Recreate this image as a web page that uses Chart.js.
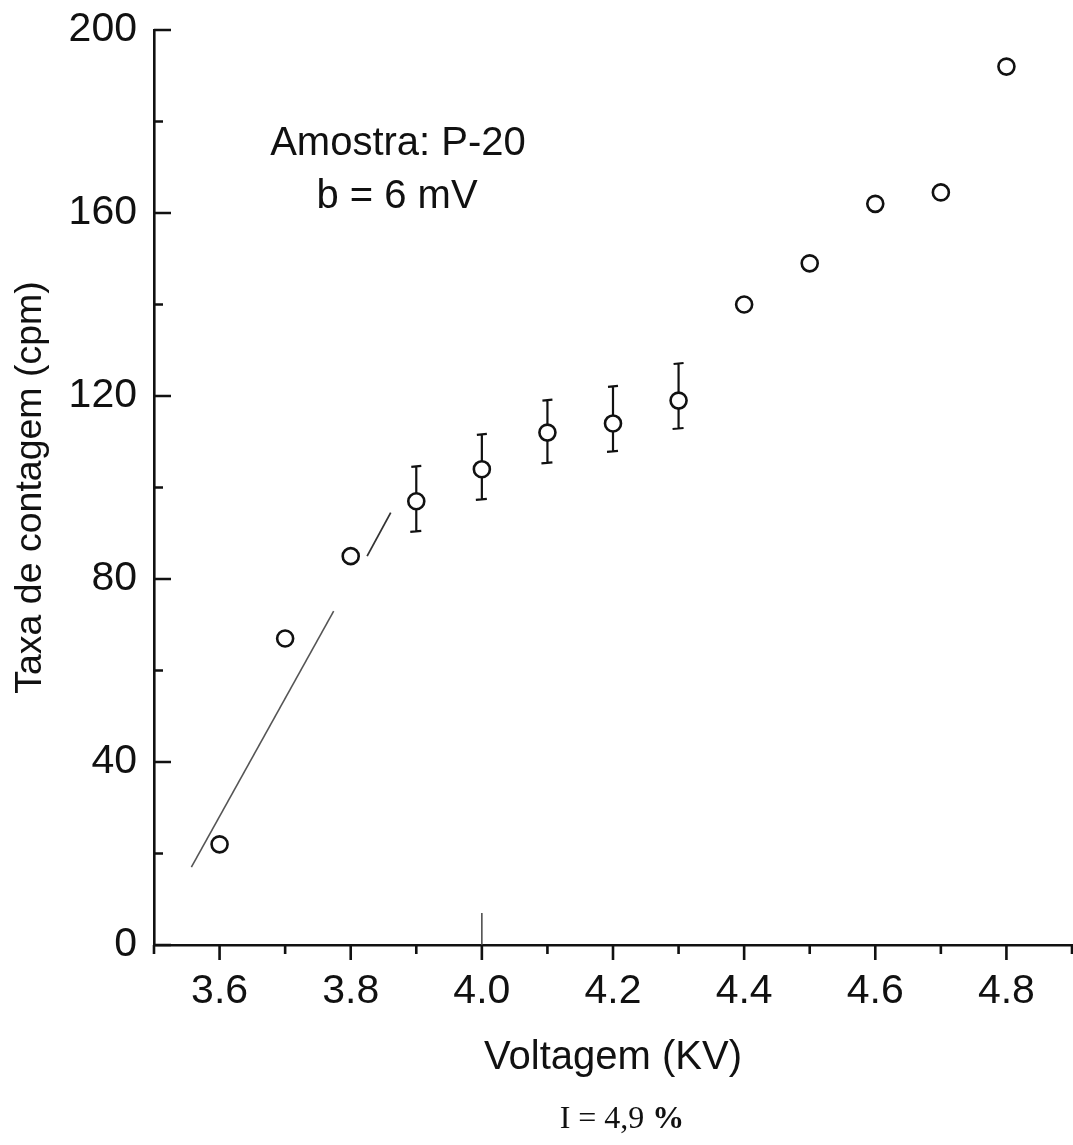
<!DOCTYPE html>
<html><head><meta charset="utf-8">
<script src="https://cdn.jsdelivr.net/npm/chart.js@4/dist/chart.umd.min.js"></script>
<style>html,body{margin:0;padding:0;background:#fff}canvas{display:block}</style>
</head><body>
<canvas id="c" width="1073" height="1145"></canvas>
<script>
// ---- data ----
const voltage    = [3.6, 3.7, 3.8, 3.9, 4.0, 4.1, 4.2, 4.3, 4.4, 4.5, 4.6, 4.7, 4.8];
const countRate  = [22, 67, 85, 97, 104, 112, 114, 119, 140, 149, 162, 164.5, 192];
const errHigh    = [null, null, null, 104.5, 111.5, 119, 122, 127, null, null, null, null, null];
const errLow     = [null, null, null, 90.5, 97.5, 105.5, 108, 113, null, null, null, null, null];
const fit1X = [3.557, 3.774];
const fit1Y = [17, 73];
const fit2X = [3.825, 3.861];
const fit2Y = [85, 94.5];
const markX = [4.0, 4.0];
const markY = [0, 7];
const xMajorTicks = [3.6, 3.8, 4.0, 4.2, 4.4, 4.6, 4.8];
const xMinorTicks = [3.5, 3.7, 3.9, 4.1, 4.3, 4.5, 4.7, 4.9];
const yMajorTicks = [0, 40, 80, 120, 160, 200];
const yMinorTicks = [20, 60, 100, 140, 180];
const xTitle = 'Voltagem (KV)';
const yTitle = 'Taxa de contagem (cpm)';
const note1 = 'Amostra: P-20';
const note2 = 'b = 6 mV';
const footMain = 'I = 4,9 ';
const footPct = '%';

const SANS = '"Liberation Sans", Arial, Helvetica, sans-serif';
const SERIF = '"Liberation Serif", "Times New Roman", serif';
const INK = '#111';

const pts = voltage.map((v, i) => ({x: v, y: countRate[i]}));
const toXY = (xs, ys) => xs.map((v, i) => ({x: v, y: ys[i]}));
const noPad = s => { s.paddingTop = 0; s.paddingBottom = 0; s.paddingLeft = 0; s.paddingRight = 0; };

const errorBars = {
  id: 'errorBars',
  beforeDatasetsDraw(chart) {
    const {ctx, scales: {x, y}} = chart;
    ctx.save();
    ctx.strokeStyle = INK;
    ctx.lineWidth = 2.2;
    voltage.forEach((v, i) => {
      if (errHigh[i] == null) return;
      const px = x.getPixelForValue(v);
      const pt = y.getPixelForValue(errHigh[i]);
      const pb = y.getPixelForValue(errLow[i]);
      ctx.beginPath();
      ctx.moveTo(px, pt); ctx.lineTo(px, pb);
      ctx.moveTo(px - 5, pt); ctx.lineTo(px + 5, pt - 1);
      ctx.moveTo(px - 6, pb + 1); ctx.lineTo(px + 5, pb);
      ctx.stroke();
    });
    ctx.restore();
  }
};

const tickMarks = {
  id: 'tickMarks',
  afterDraw(chart) {
    const {ctx, chartArea: a, scales: {x, y}} = chart;
    ctx.save();
    ctx.strokeStyle = INK;
    ctx.lineWidth = 2.6;
    ctx.beginPath();
    yMajorTicks.forEach(v => { const p = y.getPixelForValue(v); ctx.moveTo(a.left, p); ctx.lineTo(a.left + 17, p); });
    yMinorTicks.forEach(v => { const p = y.getPixelForValue(v); ctx.moveTo(a.left, p); ctx.lineTo(a.left + 9, p); });
    xMajorTicks.forEach(v => { const p = x.getPixelForValue(v); ctx.moveTo(p, a.bottom); ctx.lineTo(p, a.bottom + 15); });
    xMinorTicks.forEach(v => { const p = x.getPixelForValue(v); ctx.moveTo(p, a.bottom); ctx.lineTo(p, a.bottom + 9); });
    ctx.stroke();
    ctx.restore();
  }
};

const notes = {
  id: 'notes',
  afterDraw(chart) {
    const {ctx} = chart;
    ctx.save();
    ctx.fillStyle = INK;
    ctx.textAlign = 'center';
    ctx.textBaseline = 'alphabetic';
    ctx.font = '40px ' + SANS;
    ctx.fillText(note1, 398, 155);
    ctx.fillText(note2, 397, 208);
    ctx.font = '32px ' + SERIF;
    const w1 = ctx.measureText(footMain).width;
    ctx.font = 'bold 32px ' + SERIF;
    const w2 = ctx.measureText(footPct).width;
    const start = 622 - (w1 + w2) / 2;
    ctx.textAlign = 'left';
    ctx.font = '32px ' + SERIF;
    ctx.fillText(footMain, start, 1128);
    ctx.font = 'bold 32px ' + SERIF;
    ctx.fillText(footPct, start + w1, 1128);
    ctx.restore();
  }
};

new Chart(document.getElementById('c'), {
  type: 'scatter',
  data: {
    datasets: [
      {data: toXY(fit1X, fit1Y), showLine: true, borderColor: '#555', borderWidth: 1.6, pointRadius: 0, order: 3},
      {data: toXY(fit2X, fit2Y), showLine: true, borderColor: '#333', borderWidth: 1.8, pointRadius: 0, order: 3},
      {data: toXY(markX, markY), showLine: true, borderColor: '#444', borderWidth: 1.5, pointRadius: 0, order: 3},
      {data: pts, showLine: false, pointStyle: 'circle', pointRadius: 8, pointHoverRadius: 8,
       pointBorderWidth: 2.6, pointBorderColor: INK, pointBackgroundColor: '#fff', order: 1}
    ]
  },
  options: {
    responsive: false,
    animation: false,
    devicePixelRatio: 1,
    layout: {autoPadding: false, padding: {top: 30, right: 1, left: 0, bottom: 0}},
    plugins: {legend: {display: false}, tooltip: {enabled: false}},
    scales: {
      x: {
        type: 'linear', min: 3.5, max: 4.9,
        grid: {display: false, drawTicks: false},
        border: {display: true, color: INK, width: 2.6},
        afterBuildTicks: s => { s.ticks = xMajorTicks.map(v => ({value: v})); },
        afterFit: s => { s.height = 200; noPad(s); },
        ticks: {color: INK, font: {family: SANS, size: 41}, padding: 22, maxRotation: 0, autoSkip: false,
                callback: v => Number(v).toFixed(1)},
        title: {display: true, text: xTitle, color: INK, font: {family: SANS, size: 40}, padding: {top: 0, bottom: 63}}
      },
      y: {
        type: 'linear', min: 0, max: 200,
        grid: {display: false, drawTicks: false},
        border: {display: true, color: INK, width: 2.6},
        afterBuildTicks: s => { s.ticks = yMajorTicks.map(v => ({value: v})); },
        afterFit: s => { s.width = 154; noPad(s); },
        ticks: {color: INK, font: {family: SANS, size: 41}, padding: 17, callback: v => String(v)},
        title: {display: true, text: yTitle, color: INK, font: {family: SANS, size: 37.5}, padding: {top: 8, bottom: 0}}
      }
    }
  },
  plugins: [errorBars, tickMarks, notes]
});
</script>
</body></html>
